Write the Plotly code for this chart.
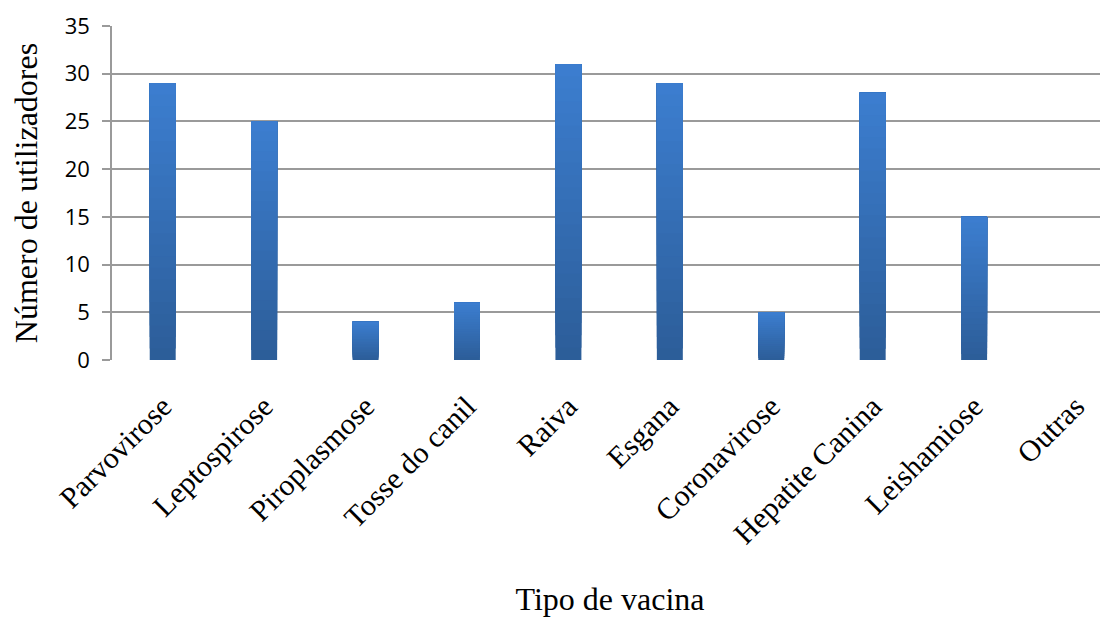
import plotly.graph_objects as go

categories = ["Parvovirose", "Leptospirose", "Piroplasmose", "Tosse do canil", "Raiva",
              "Esgana", "Coronavirose", "Hepatite Canina", "Leishamiose", "Outras"]
values = [29, 25, 4, 6, 31, 29, 5, 28, 15, 0]
y_ticks = [0, 5, 10, 15, 20, 25, 30, 35]

top_rgb = (60, 126, 208)
bot_rgb = (44, 93, 152)
N = 24

fig = go.Figure()
idx = list(range(len(categories)))
for k in range(N):
    t = (k + 0.5) / N
    c = tuple(round(bot_rgb[i] + (top_rgb[i] - bot_rgb[i]) * t) for i in range(3))
    fig.add_trace(go.Bar(
        x=idx,
        y=[v * (1 - k / N) for v in values],
        base=[v * k / N for v in values],
        width=0.256,
        marker=dict(color="rgb(%d,%d,%d)" % c, line=dict(width=0)),
        showlegend=False,
        hoverinfo="skip",
    ))

# page body adds an 8px offset; figure sized so plot area lands at x 112-1108, y 26-360
fig.update_layout(
    width=1100, height=609,
    margin=dict(l=104, r=0, t=18, b=257, autoexpand=False),
    barmode="overlay",
    plot_bgcolor="white", paper_bgcolor="white",
    font=dict(family="Liberation Serif", color="black"),
)
fig.update_xaxes(
    tickmode="array", tickvals=idx, ticktext=categories,
    range=[-0.5, 9.32], tickangle=-45,
    tickfont=dict(family="Liberation Serif", size=30, color="black"),
    ticklabelstandoff=22,
    showgrid=False, zeroline=False, showline=False, ticks="",
    title=dict(text="Tipo de vacina", font=dict(family="Liberation Serif", size=32), standoff=50),
)
fig.update_yaxes(
    range=[0, 35], tickmode="array", tickvals=y_ticks,
    tickfont=dict(family="Open Sans", size=22, color="black"),
    ticklabelstandoff=8,
    showgrid=True, gridcolor="#9a9a9a", gridwidth=1.5,
    zeroline=False, showline=True, linecolor="#9a9a9a", linewidth=1.5,
    ticks="outside", ticklen=8, tickcolor="#9a9a9a", tickwidth=1.5,
    title=dict(text="Número de utilizadores", font=dict(family="Liberation Serif", size=32), standoff=18),
)

fig.write_html("out.html")
